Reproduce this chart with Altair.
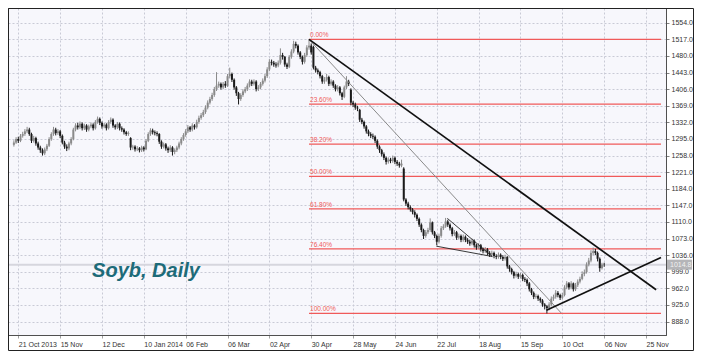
import altair as alt
import pandas as pd

# ---------------- data ----------------
bar_index = list(range(-2, 267))

open_ = [
    1282, 1287, 1295, 1291, 1302, 1306, 1312, 1316, 1306, 1291, 1297, 1285,
    1276, 1270, 1263, 1272, 1280, 1295, 1306, 1316, 1308, 1312,
    1302, 1287, 1278, 1274, 1285, 1295, 1316, 1325, 1321, 1329,
    1319, 1325, 1316, 1323, 1327, 1319, 1333, 1340, 1331, 1323,
    1327, 1319, 1333, 1338, 1325, 1321, 1329, 1319, 1316, 1310,
    1306, 1297, 1276, 1278, 1272, 1274, 1270, 1276, 1272, 1291,
    1306, 1314, 1310, 1308, 1306, 1289, 1278, 1283, 1274, 1270,
    1276, 1266, 1270, 1276, 1285, 1295, 1304, 1312, 1321, 1316,
    1325, 1321, 1333, 1342, 1348, 1355, 1365, 1376, 1384, 1393,
    1406, 1414, 1418, 1410, 1418, 1414, 1435, 1440, 1427, 1410,
    1397, 1384, 1393, 1401, 1406, 1414, 1423, 1418, 1423, 1406,
    1410, 1418, 1425, 1435, 1450, 1467, 1465, 1461, 1459, 1465,
    1482, 1478, 1461, 1456, 1478, 1490, 1507, 1503, 1488, 1478,
    1467, 1482, 1499, 1503, 1500, 1454, 1448, 1444, 1435, 1423,
    1427, 1433, 1418, 1423, 1414, 1406, 1410, 1397, 1389, 1410,
    1423, 1405, 1376, 1372, 1365, 1360, 1338, 1333, 1323, 1312,
    1306, 1302, 1300, 1291, 1278, 1270, 1261, 1253, 1244, 1249,
    1246, 1253, 1244, 1240, 1236, 1229, 1160, 1151, 1143, 1138,
    1132, 1126, 1117, 1104, 1092, 1079, 1087, 1092, 1109, 1087,
    1079, 1066, 1079, 1096, 1100, 1111, 1104, 1096, 1083, 1087,
    1075, 1079, 1070, 1077, 1070, 1066, 1062, 1068, 1058, 1053,
    1058, 1049, 1045, 1049, 1041, 1037, 1041, 1034, 1032, 1037,
    1032, 1028, 1032, 1011, 1005, 998, 990, 994, 988, 992,
    983, 981, 973, 960, 952, 943, 945, 939, 935, 926,
    922, 918, 926, 939, 943, 952, 947, 941, 947, 964,
    973, 964, 973, 960, 969, 977, 983, 994, 998, 1015,
    1024, 1041, 1045, 1041, 1028, 1007, 1015,
]

high = [
    1292, 1299, 1300, 1306, 1311, 1317, 1322, 1320, 1309, 1302, 1300, 1289,
    1280, 1274, 1276, 1284, 1299, 1310, 1322, 1320, 1317, 1315,
    1305, 1291, 1283, 1289, 1299, 1320, 1330, 1331, 1334, 1332,
    1329, 1328, 1327, 1332, 1330, 1337, 1345, 1343, 1334, 1331,
    1330, 1337, 1343, 1341, 1328, 1333, 1332, 1323, 1319, 1313,
    1312, 1299, 1282, 1281, 1279, 1277, 1280, 1279, 1295, 1310,
    1319, 1318, 1314, 1312, 1308, 1292, 1287, 1286, 1278, 1281,
    1279, 1274, 1280, 1289, 1299, 1308, 1317, 1326, 1324, 1330,
    1328, 1338, 1347, 1353, 1360, 1370, 1381, 1389, 1398, 1411,
    1444, 1423, 1421, 1422, 1424, 1440, 1454, 1443, 1430, 1413,
    1400, 1397, 1406, 1411, 1419, 1428, 1427, 1428, 1426, 1415,
    1422, 1430, 1440, 1455, 1473, 1472, 1469, 1466, 1470, 1497,
    1487, 1480, 1465, 1482, 1495, 1514, 1512, 1506, 1491, 1481,
    1487, 1504, 1517, 1508, 1503, 1458, 1452, 1447, 1438, 1433,
    1440, 1436, 1428, 1426, 1417, 1415, 1413, 1400, 1414, 1435,
    1427, 1408, 1380, 1376, 1369, 1362, 1342, 1336, 1326, 1316,
    1310, 1307, 1303, 1294, 1281, 1273, 1265, 1256, 1254, 1253,
    1258, 1256, 1248, 1244, 1249, 1232, 1163, 1155, 1147, 1141,
    1136, 1129, 1120, 1107, 1095, 1092, 1097, 1118, 1111, 1090,
    1082, 1084, 1101, 1105, 1119, 1115, 1107, 1099, 1092, 1090,
    1084, 1082, 1082, 1080, 1074, 1070, 1073, 1071, 1061, 1063,
    1061, 1053, 1054, 1052, 1045, 1046, 1044, 1038, 1042, 1040,
    1036, 1037, 1034, 1014, 1008, 1001, 999, 997, 997, 995,
    987, 984, 976, 963, 955, 950, 948, 942, 938, 929,
    925, 931, 944, 948, 958, 956, 950, 952, 969, 978,
    976, 978, 975, 974, 982, 988, 1000, 1004, 1020, 1030,
    1047, 1053, 1050, 1044, 1031, 1019, 1019,
]

low = [
    1278, 1284, 1286, 1288, 1298, 1302, 1308, 1302, 1286, 1287, 1280, 1271,
    1264, 1258, 1259, 1268, 1277, 1291, 1302, 1303, 1304, 1297,
    1283, 1273, 1268, 1270, 1281, 1292, 1312, 1316, 1317, 1314,
    1315, 1311, 1312, 1319, 1314, 1316, 1329, 1326, 1318, 1319,
    1314, 1316, 1329, 1320, 1316, 1317, 1314, 1311, 1305, 1302,
    1302, 1270, 1271, 1267, 1268, 1265, 1266, 1267, 1270, 1288,
    1302, 1305, 1303, 1301, 1284, 1273, 1274, 1269, 1264, 1266,
    1258, 1261, 1266, 1272, 1281, 1291, 1300, 1308, 1311, 1312,
    1316, 1318, 1329, 1338, 1344, 1351, 1361, 1372, 1380, 1389,
    1402, 1409, 1405, 1406, 1409, 1411, 1430, 1422, 1405, 1391,
    1372, 1380, 1389, 1397, 1402, 1410, 1413, 1414, 1401, 1402,
    1406, 1414, 1421, 1431, 1446, 1459, 1456, 1454, 1455, 1461,
    1472, 1456, 1451, 1453, 1474, 1486, 1497, 1483, 1473, 1461,
    1463, 1478, 1494, 1483, 1450, 1443, 1439, 1430, 1418, 1418,
    1423, 1413, 1414, 1409, 1401, 1401, 1392, 1382, 1386, 1406,
    1413, 1370, 1366, 1360, 1357, 1333, 1328, 1318, 1307, 1301,
    1297, 1295, 1286, 1273, 1264, 1256, 1248, 1238, 1240, 1241,
    1242, 1239, 1235, 1231, 1232, 1156, 1146, 1138, 1133, 1127,
    1120, 1112, 1099, 1087, 1072, 1075, 1083, 1088, 1082, 1074,
    1058, 1062, 1075, 1092, 1097, 1099, 1091, 1078, 1079, 1070,
    1071, 1065, 1066, 1065, 1061, 1057, 1058, 1053, 1048, 1049,
    1044, 1040, 1041, 1036, 1032, 1033, 1029, 1027, 1028, 1027,
    1023, 1024, 1006, 999, 993, 984, 986, 983, 984, 978,
    976, 967, 955, 947, 938, 939, 934, 930, 921, 915,
    906, 913, 922, 934, 939, 942, 936, 937, 944, 960,
    959, 960, 955, 956, 965, 973, 980, 989, 995, 1011,
    1020, 1036, 1036, 1022, 999, 1004, 1010,
]

close = [
    1287, 1295, 1291, 1302, 1306, 1312, 1316, 1306, 1291, 1297, 1285, 1276,
    1270, 1263, 1272, 1280, 1295, 1306, 1316, 1308, 1312, 1302,
    1287, 1278, 1274, 1285, 1295, 1316, 1325, 1321, 1329, 1319,
    1325, 1316, 1323, 1327, 1319, 1333, 1340, 1331, 1323, 1327,
    1319, 1333, 1338, 1325, 1321, 1329, 1319, 1316, 1310, 1306,
    1308, 1276, 1278, 1272, 1274, 1270, 1276, 1272, 1291, 1306,
    1314, 1310, 1308, 1306, 1289, 1278, 1283, 1274, 1270, 1276,
    1266, 1270, 1276, 1285, 1295, 1304, 1312, 1321, 1316, 1325,
    1321, 1333, 1342, 1348, 1355, 1365, 1376, 1384, 1393, 1406,
    1414, 1418, 1410, 1418, 1414, 1435, 1440, 1427, 1410, 1397,
    1384, 1393, 1401, 1406, 1414, 1423, 1418, 1423, 1406, 1410,
    1418, 1425, 1435, 1450, 1467, 1465, 1461, 1459, 1465, 1482,
    1478, 1461, 1456, 1478, 1490, 1507, 1503, 1488, 1478, 1467,
    1482, 1499, 1503, 1488, 1454, 1448, 1444, 1435, 1423, 1427,
    1433, 1418, 1423, 1414, 1406, 1410, 1397, 1389, 1410, 1423,
    1418, 1376, 1372, 1365, 1363, 1338, 1333, 1323, 1312, 1306,
    1302, 1300, 1291, 1278, 1270, 1261, 1253, 1244, 1249, 1246,
    1253, 1244, 1240, 1236, 1240, 1160, 1151, 1143, 1138, 1132,
    1126, 1117, 1104, 1092, 1079, 1087, 1092, 1109, 1087, 1079,
    1066, 1079, 1096, 1100, 1111, 1104, 1096, 1083, 1087, 1075,
    1079, 1070, 1077, 1070, 1066, 1062, 1068, 1058, 1053, 1058,
    1049, 1045, 1049, 1041, 1037, 1041, 1034, 1032, 1037, 1032,
    1028, 1032, 1011, 1005, 998, 990, 994, 988, 992, 983,
    981, 973, 960, 952, 943, 945, 939, 935, 926, 922,
    918, 926, 939, 943, 952, 947, 941, 947, 964, 973,
    964, 973, 960, 969, 977, 983, 994, 998, 1015, 1024,
    1041, 1045, 1041, 1028, 1007, 1015, 1014.8,
]

x_tick_index = [0, 19, 38, 57, 76, 95, 114, 133, 152, 171, 190, 209, 228, 247, 266, 285]
x_tick_labels = ["21 Oct 2013", "15 Nov", "12 Dec", "10 Jan 2014", "06 Feb", "06 Mar",
                 "02 Apr", "30 Apr", "28 May", "24 Jun", "22 Jul", "18 Aug",
                 "15 Sep", "10 Oct", "06 Nov", "25 Nov"]
y_ticks = [888, 925, 962, 999, 1036, 1073, 1110, 1147, 1184, 1221, 1258,
           1295, 1332, 1369, 1406, 1443, 1480, 1517, 1554]

fib_labels = ["0.00%", "23.60%", "38.20%", "50.00%", "61.80%", "76.40%", "100.00%"]
fib_values = [1517, 1372.8, 1283.6, 1211.5, 1139.4, 1050.2, 906]
fib_start = 132

# trend lines: start index, start price, end index, end price
thick_lines = {"x": [132, 239.8], "y": [1517, 913], "x2": [289.6, 291.8], "y2": [959, 1031]}
thin_gray_line = {"x": [132], "y": [1517], "x2": [246.5], "y2": [907]}
wedge_lines = {"x": [194.8, 189.8], "y": [1118, 1056], "x2": [215.2, 215.2], "y2": [1033, 1033]}

last_price = [1014.8]
last_label = ["1014.8"]
chart_title = ["Soyb, Daily"]

# ---------------- layout ----------------
W, H = 658, 327
FONT = "Liberation Sans"
xs = alt.Scale(domain=[-2.4, 291.8], nice=False, zero=False)
ys = alt.Scale(domain=[858, 1587], nice=False, zero=False)

label_array = "[" + ",".join("'%s'" % s for s in x_tick_labels) + "]"
x_axis = alt.Axis(values=x_tick_index, labelExpr=label_array + "[round(datum.value/19)]",
                  title=None, orient="bottom", grid=True, gridDash=[2, 2], gridColor="#c9cad6",
                  labelAlign="left", labelFont=FONT, labelFontSize=7, labelColor="#333333",
                  labelPadding=2, tickSize=3, tickColor="#a0a0a0", domainColor="#505050",
                  labelFlush=False, labelOverlap=False)
y_axis = alt.Axis(values=y_ticks, format=".1f", orient="right", title=None, grid=True,
                  gridDash=[2, 2], gridColor="#c9cad6", labelFont=FONT, labelFontSize=7,
                  labelColor="#333333", labelPadding=2, tickSize=3, tickColor="#808080",
                  domainColor="#505050", labelFlush=False, labelOverlap=False)

def X(field):
    return alt.X(field, scale=xs, axis=x_axis)

def Y(field):
    return alt.Y(field, scale=ys, axis=y_axis)

df = pd.DataFrame({"i": bar_index, "o": open_, "h": high, "l": low, "c": close})
df["dir"] = ["up" if c >= o else "down" for o, c in zip(open_, close)]
col = alt.Color("dir:N", scale=alt.Scale(domain=["up", "down"], range=["#8a8a8a", "#1a1a1a"]),
                legend=None)

price_line = alt.Chart(pd.DataFrame({"v": last_price})).mark_rule(
    color="#d6d6de", strokeWidth=2).encode(y=Y("v:Q"))

fib_df = pd.DataFrame({"lab": fib_labels, "v": fib_values, "x0": [fib_start] * 7,
                       "x1": [291.8] * 7})
fib_rules = alt.Chart(fib_df).mark_rule(color="#f05a5a", strokeWidth=1.2, clip=True).encode(
    x=X("x0:Q"), x2="x1:Q", y=Y("v:Q"))
fib_text = alt.Chart(fib_df).mark_text(align="left", baseline="bottom", dx=1, dy=-1,
                                       font=FONT, fontSize=6.5, color="#f05a5a").encode(
    x=X("x0:Q"), y=Y("v:Q"), text="lab:N")

wicks = alt.Chart(df).mark_rule(strokeWidth=1, clip=True).encode(
    x=X("i:Q"), y=Y("l:Q"), y2="h:Q", color=col)
bodies = alt.Chart(df).mark_bar(size=2, clip=True).encode(
    x=X("i:Q"), y=Y("o:Q"), y2="c:Q", color=col)

def seg(d, color, width):
    return alt.Chart(pd.DataFrame(d)).mark_rule(color=color, strokeWidth=width, clip=True).encode(
        x=X("x:Q"), x2="x2:Q", y=Y("y:Q"), y2="y2:Q")

thick = seg(thick_lines, "#111111", 1.7)
gray = seg(thin_gray_line, "#8a8a8a", 1)
wedge = seg(wedge_lines, "#222222", 0.9)

title = alt.Chart(pd.DataFrame({"t": chart_title, "x": [33.5], "y": [988]})).mark_text(
    align="left", baseline="alphabetic", font=FONT, fontSize=20, fontStyle="italic",
    fontWeight="bold", color="#1d6b79").encode(x=X("x:Q"), y=Y("y:Q"), text="t:N")

lp = pd.DataFrame({"v": last_price, "lab": last_label})
price_box = alt.Chart(lp).mark_rule(strokeWidth=10, color="#b5b5b8", clip=False).encode(
    x=alt.value(W + 1), x2=alt.value(W + 26), y=Y("v:Q"))
price_txt = alt.Chart(lp).mark_text(align="left", baseline="middle", font=FONT, fontSize=7,
                                    color="#f2f2f2", clip=False).encode(
    x=alt.value(W + 4), y=Y("v:Q"), text="lab:N")

border = alt.Chart(pd.DataFrame({"a": [0]})).mark_rect(
    fillOpacity=0, stroke="#222222", strokeWidth=1, clip=False).encode(
    x=alt.value(0.5), x2=alt.value(W + 27.5), y=alt.value(0.5), y2=alt.value(H + 15.5))

chart = alt.layer(
    price_line, fib_rules, wicks, bodies, gray, wedge, thick, fib_text, title,
    price_box, price_txt, border
).properties(
    width=W, height=H,
    autosize=alt.AutoSizeParams(type="none"),
    padding={"left": 0, "top": 0, "right": 28, "bottom": 16},
    background="#ffffff",
).configure_view(
    fill="#f7f7fc", stroke="#4a4a4a", strokeWidth=1
)

chart.save("out.html", embed_options={"renderer": "svg", "actions": False})
